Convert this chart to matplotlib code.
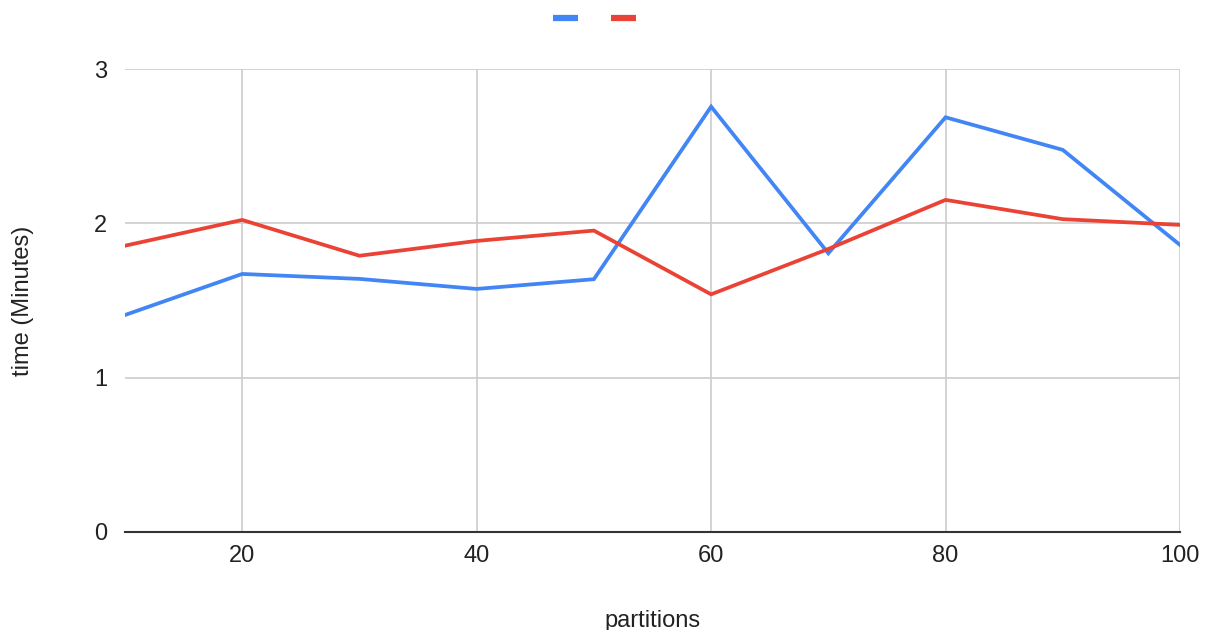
import matplotlib
matplotlib.use("Agg")
import matplotlib.pyplot as plt
from matplotlib.lines import Line2D

partitions = [10, 20, 30, 40, 50, 60, 70, 80, 90, 100]
series_blue = [1.406, 1.672, 1.64, 1.575, 1.638, 2.756, 1.806, 2.687, 2.476, 1.86]
series_red = [1.855, 2.022, 1.79, 1.886, 1.953, 1.540, 1.834, 2.152, 2.027, 1.99]
xticks = [20, 40, 60, 80, 100]
yticks = [0, 1, 2, 3]

BLUE = "#4285f4"
RED = "#ea4335"

plt.rcParams['font.family'] = ['Liberation Sans', 'DejaVu Sans']

fig = plt.figure(figsize=(12.12, 6.3), dpi=100)
ax = fig.add_axes([125/1212, 1-532/630, (1180-125)/1212, (532-69)/630])

ax.plot(partitions, series_blue, color=BLUE, lw=2.7, solid_joinstyle='miter', zorder=3)
ax.plot(partitions, series_red, color=RED, lw=2.7, solid_joinstyle='miter', zorder=3)

ax.set_xlim(10, 100)
ax.set_ylim(0, 3)
ax.set_xticks(xticks)
ax.set_yticks(yticks)
ax.grid(True, color="#cccccc", lw=1.2, zorder=0)
for s in ['top', 'right', 'left']:
    ax.spines[s].set_visible(False)
ax.spines['bottom'].set_color('#333333')
ax.spines['bottom'].set_linewidth(1.5)
ax.spines['bottom'].set_zorder(4)
ax.tick_params(length=0, labelsize=17, colors='#222222')
ax.tick_params(axis='x', pad=9)
ax.tick_params(axis='y', pad=13)
ax.set_xlabel("partitions", fontsize=17, color='#222222', labelpad=31)
ax.set_ylabel("time (Minutes)", fontsize=17, color='#222222', labelpad=43)

handles = [Line2D([], [], color=BLUE, lw=4.5, solid_capstyle='butt'),
           Line2D([], [], color=RED, lw=4.5, solid_capstyle='butt')]
fig.legend(handles, ['', ''], loc='center', bbox_to_anchor=(594.5/1212, 1-20/630),
           ncol=2, frameon=False, handlelength=1.06, columnspacing=1.4, handletextpad=0.0,
           fontsize=17)

fig.savefig("out.png", dpi=100)
